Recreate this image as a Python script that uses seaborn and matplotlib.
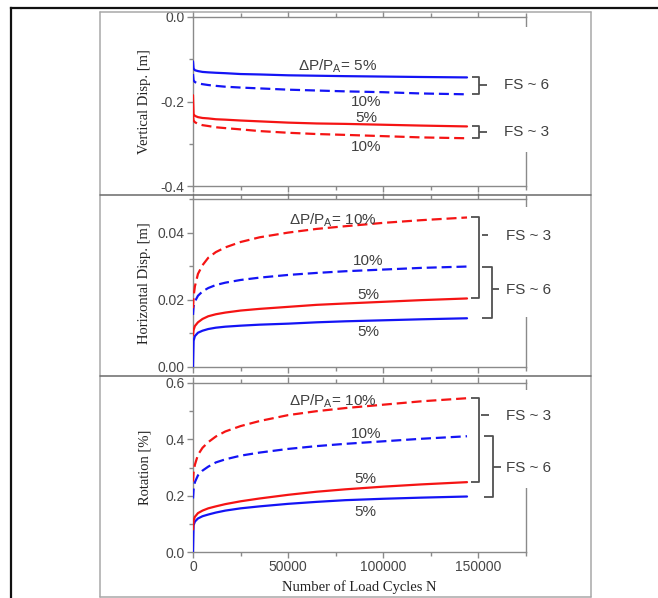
import matplotlib
matplotlib.use("Agg")
import numpy as np
import pandas as pd
import matplotlib.pyplot as plt
from matplotlib.lines import Line2D
from matplotlib.patches import Rectangle
from matplotlib.ticker import MultipleLocator, FormatStrFormatter
import seaborn as sns

# ---------------------------------------------------------------- data
cycles = [0, 300, 1000, 2600, 5000, 8000, 12000, 17000, 25000, 35000,
          50000, 65000, 80000, 100000, 120000, 144000]

# vertical displacement [m]
vert_fs6_5 = [-0.105, -0.122, -0.126, -0.128, -0.130, -0.131, -0.132, -0.133,
              -0.135, -0.136, -0.138, -0.139, -0.140, -0.141, -0.142, -0.143]
vert_fs6_10 = [-0.135, -0.150, -0.154, -0.157, -0.159, -0.161, -0.163, -0.165,
               -0.167, -0.169, -0.172, -0.174, -0.176, -0.178, -0.181, -0.183]
vert_fs3_5 = [-0.185, -0.230, -0.234, -0.237, -0.239, -0.240, -0.242, -0.243,
              -0.245, -0.247, -0.250, -0.252, -0.253, -0.255, -0.257, -0.259]
vert_fs3_10 = [-0.232, -0.245, -0.249, -0.253, -0.256, -0.258, -0.261, -0.263,
               -0.266, -0.270, -0.274, -0.277, -0.279, -0.282, -0.285, -0.287]

# horizontal displacement [m]
hor_fs6_5 = [0.0, 0.0078, 0.0092, 0.0102, 0.0108, 0.0113, 0.0117, 0.0120,
             0.0123, 0.0126, 0.0129, 0.0133, 0.0136, 0.0139, 0.0142, 0.0145]
hor_fs6_10 = [0.0155, 0.0180, 0.0195, 0.0212, 0.0225, 0.0235, 0.0244, 0.0251,
              0.0259, 0.0266, 0.0274, 0.0280, 0.0285, 0.0290, 0.0295, 0.0299]
hor_fs3_5 = [0.0095, 0.0110, 0.0122, 0.0133, 0.0143, 0.0151, 0.0157, 0.0162,
             0.0168, 0.0173, 0.0179, 0.0185, 0.0189, 0.0194, 0.0199, 0.0204]
hor_fs3_10 = [0.0175, 0.0210, 0.0240, 0.0277, 0.0303, 0.0325, 0.0342, 0.0356,
              0.0372, 0.0386, 0.0400, 0.0411, 0.0419, 0.0429, 0.0437, 0.0445]

# rotation [%]
rot_fs6_5 = [0.0, 0.095, 0.108, 0.119, 0.127, 0.133, 0.140, 0.147,
             0.155, 0.162, 0.171, 0.178, 0.184, 0.189, 0.193, 0.197]
rot_fs6_10 = [0.190, 0.222, 0.248, 0.272, 0.289, 0.303, 0.318, 0.329,
              0.342, 0.353, 0.366, 0.376, 0.384, 0.393, 0.402, 0.411]
rot_fs3_5 = [0.080, 0.112, 0.125, 0.138, 0.147, 0.155, 0.162, 0.170,
             0.180, 0.190, 0.203, 0.214, 0.2225, 0.232, 0.240, 0.248]
rot_fs3_10 = [0.250, 0.283, 0.310, 0.345, 0.370, 0.390, 0.410, 0.428,
              0.447, 0.465, 0.486, 0.500, 0.511, 0.523, 0.535, 0.546]

y_labels = ["Vertical Disp. [m]", "Horizontal Disp. [m]", "Rotation [%]"]
x_label = "Number of Load Cycles N"
x_ticks = [0, 50000, 100000, 150000]

# ---------------------------------------------------------------- style
sns.set_style("ticks")
plt.rcParams["font.family"] = ["Liberation Sans", "DejaVu Sans"]
plt.rcParams["axes.unicode_minus"] = False
plt.rcParams["mathtext.default"] = "regular"

W, H = 658, 598
fig = plt.figure(figsize=(W / 100, H / 100), dpi=100)
fig.patch.set_facecolor("white")


def fx(x):
    return x / W


def fy(y):
    return 1 - y / H


palette = {"FS ~ 6": "#1414f5", "FS ~ 3": "#f51414"}
dash_map = {"5%": "", "10%": (4.5, 2.2)}
spine_c = "#8a8a8a"
tick_c = "#474747"
note_c = "#404040"
serif = ["Liberation Serif", "DejaVu Serif"]


def long_frame(series):
    rows = []
    for (fs, dp), vals in series.items():
        for n, v in zip(cycles, vals):
            rows.append({"N": n, "value": v, "FS": fs, "dP": dp})
    return pd.DataFrame(rows)


panels = [
    {
        "series": {("FS ~ 6", "5%"): vert_fs6_5, ("FS ~ 6", "10%"): vert_fs6_10,
                   ("FS ~ 3", "5%"): vert_fs3_5, ("FS ~ 3", "10%"): vert_fs3_10},
        "rect": (193, 17, 526, 186), "ylim": (-0.4, 0.0), "major": 0.2, "minor": 0.1, "fmt": "%.1f",
        "mask": (0.20, 0.94),
    },
    {
        "series": {("FS ~ 6", "5%"): hor_fs6_5, ("FS ~ 6", "10%"): hor_fs6_10,
                   ("FS ~ 3", "5%"): hor_fs3_5, ("FS ~ 3", "10%"): hor_fs3_10},
        "rect": (193, 199, 526, 367), "ylim": (0.0, 0.05), "major": 0.02, "minor": 0.01, "fmt": "%.2f",
        "mask": (0.30, 0.95),
    },
    {
        "series": {("FS ~ 6", "5%"): rot_fs6_5, ("FS ~ 6", "10%"): rot_fs6_10,
                   ("FS ~ 3", "5%"): rot_fs3_5, ("FS ~ 3", "10%"): rot_fs3_10},
        "rect": (193, 383, 526, 552), "ylim": (0.0, 0.6), "major": 0.2, "minor": 0.1, "fmt": "%.1f",
        "mask": (0.38, 0.96),
    },
]

axes = []
for i, p in enumerate(panels):
    x0, y0, x1, y1 = p["rect"]
    ax = fig.add_axes([fx(x0), fy(y1), (x1 - x0) / W, (y1 - y0) / H])
    df = long_frame(p["series"])
    sns.lineplot(data=df, x="N", y="value", hue="FS", style="dP", palette=palette,
                 dashes=dash_map, estimator=None, sort=False, legend=False,
                 linewidth=1.6, ax=ax, zorder=4)
    ax.set_xlim(0, 175000)
    ax.set_ylim(*p["ylim"])
    ax.xaxis.set_major_locator(MultipleLocator(50000))
    ax.xaxis.set_minor_locator(MultipleLocator(25000))
    ax.yaxis.set_major_locator(MultipleLocator(p["major"]))
    ax.yaxis.set_minor_locator(MultipleLocator(p["minor"]))
    ax.yaxis.set_major_formatter(FormatStrFormatter(p["fmt"]))
    ax.tick_params(which="both", direction="out", top=True, right=False,
                   color=spine_c, width=1.0, labelcolor=tick_c, labelsize=10, pad=2)
    ax.tick_params(which="major", length=4)
    ax.tick_params(which="minor", length=3)
    for s in ax.spines.values():
        s.set_visible(True)
        s.set_color(spine_c)
        s.set_linewidth(1.0)
    ax.set_ylabel(y_labels[i], family=serif, fontsize=10.5, color="#222222")
    ax.yaxis.set_label_coords(-0.126, 0.5)
    if i < 2:
        ax.tick_params(labelbottom=False)
        ax.set_xlabel("")
    else:
        ax.set_xticks(x_ticks)
        ax.set_xticklabels([str(t) for t in x_ticks])
        ax.set_xlabel(x_label, family=serif, fontsize=10.5, color="#222222")
        ax.xaxis.set_label_coords(0.5, -0.165)
    lo, hi = p["mask"]
    ax.add_patch(Rectangle((0.985, lo), 0.03, hi - lo, transform=ax.transAxes,
                           facecolor="white", edgecolor="none", clip_on=False, zorder=5))
    axes.append(ax)

ax1, ax2, ax3 = axes
txt = dict(color=note_c, fontsize=11, ha="center", va="center", zorder=7)
lbl = dict(color=note_c, fontsize=11, ha="left", va="center", zorder=7, clip_on=False)
brk = dict(color="#505050", lw=1.3, clip_on=False, zorder=6, solid_capstyle="butt")


def bracket(ax, top, bottom, xl, xv, tick_y, tick_x0, tick_x1):
    ax.plot([xl, xv, xv, xl], [top, top, bottom, bottom], **brk)
    ax.plot([tick_x0, tick_x1], [tick_y, tick_y], **brk)


# vertical displacement annotations
ax1.text(76000, -0.117, "ΔP/P$_{A}$= 5%", **txt)
ax1.text(91000, -0.200, "10%", **txt)
ax1.text(91000, -0.240, "5%", **txt)
ax1.text(91000, -0.307, "10%", **txt)
bracket(ax1, vert_fs6_5[-1], vert_fs6_10[-1], 146800, 150300, -0.161, 150300, 154700)
ax1.text(163500, -0.161, "FS ~ 6", **lbl)
bracket(ax1, vert_fs3_5[-1], vert_fs3_10[-1], 146800, 150300, -0.273, 150300, 154700)
ax1.text(163500, -0.273, "FS ~ 3", **lbl)

# horizontal displacement annotations
ax2.text(73600, 0.0437, "ΔP/P$_{A}$= 10%", **txt)
ax2.text(92000, 0.0315, "10%", **txt)
ax2.text(92000, 0.0214, "5%", **txt)
ax2.text(92000, 0.0105, "5%", **txt)
bracket(ax2, hor_fs3_10[-1], hor_fs3_5[-1], 146000, 150300, 0.0392, 152000, 155200)
ax2.text(164300, 0.0390, "FS ~ 3", **lbl)
bracket(ax2, hor_fs6_10[-1], hor_fs6_5[-1], 152000, 157300, 0.0232, 157300, 160800)
ax2.text(164300, 0.0230, "FS ~ 6", **lbl)

# rotation annotations
ax3.text(73600, 0.536, "ΔP/P$_{A}$= 10%", **txt)
ax3.text(90800, 0.419, "10%", **txt)
ax3.text(90800, 0.259, "5%", **txt)
ax3.text(90800, 0.143, "5%", **txt)
bracket(ax3, rot_fs3_10[-1], rot_fs3_5[-1], 146000, 150300, 0.486, 151200, 155600)
ax3.text(164300, 0.482, "FS ~ 3", **lbl)
bracket(ax3, rot_fs6_10[-1], rot_fs6_5[-1], 153000, 157700, 0.301, 157700, 161700)
ax3.text(164300, 0.299, "FS ~ 6", **lbl)

# panel frames
light = dict(color="#a8a8a8", lw=1.1, transform=fig.transFigure)
dark = dict(color="#6a6a6a", lw=1.1, transform=fig.transFigure)
for x in (100, 591):
    fig.add_artist(Line2D([fx(x), fx(x)], [fy(12), fy(597)], **light))
fig.add_artist(Line2D([fx(100), fx(591)], [fy(12), fy(12)], **light))
fig.add_artist(Line2D([fx(100), fx(591)], [fy(597), fy(597)], **light))
for y in (195, 376):
    fig.add_artist(Line2D([fx(100), fx(591)], [fy(y), fy(y)], **dark))

# outer page frame
outer = dict(color="#111111", lw=1.6, transform=fig.transFigure, solid_capstyle="projecting")
fig.add_artist(Line2D([fx(11), fx(11)], [fy(7.5), fy(600)], **outer))
fig.add_artist(Line2D([fx(11), fx(660)], [fy(7.5), fy(7.5)], **outer))

fig.savefig("out.png", dpi=100, facecolor="white")
